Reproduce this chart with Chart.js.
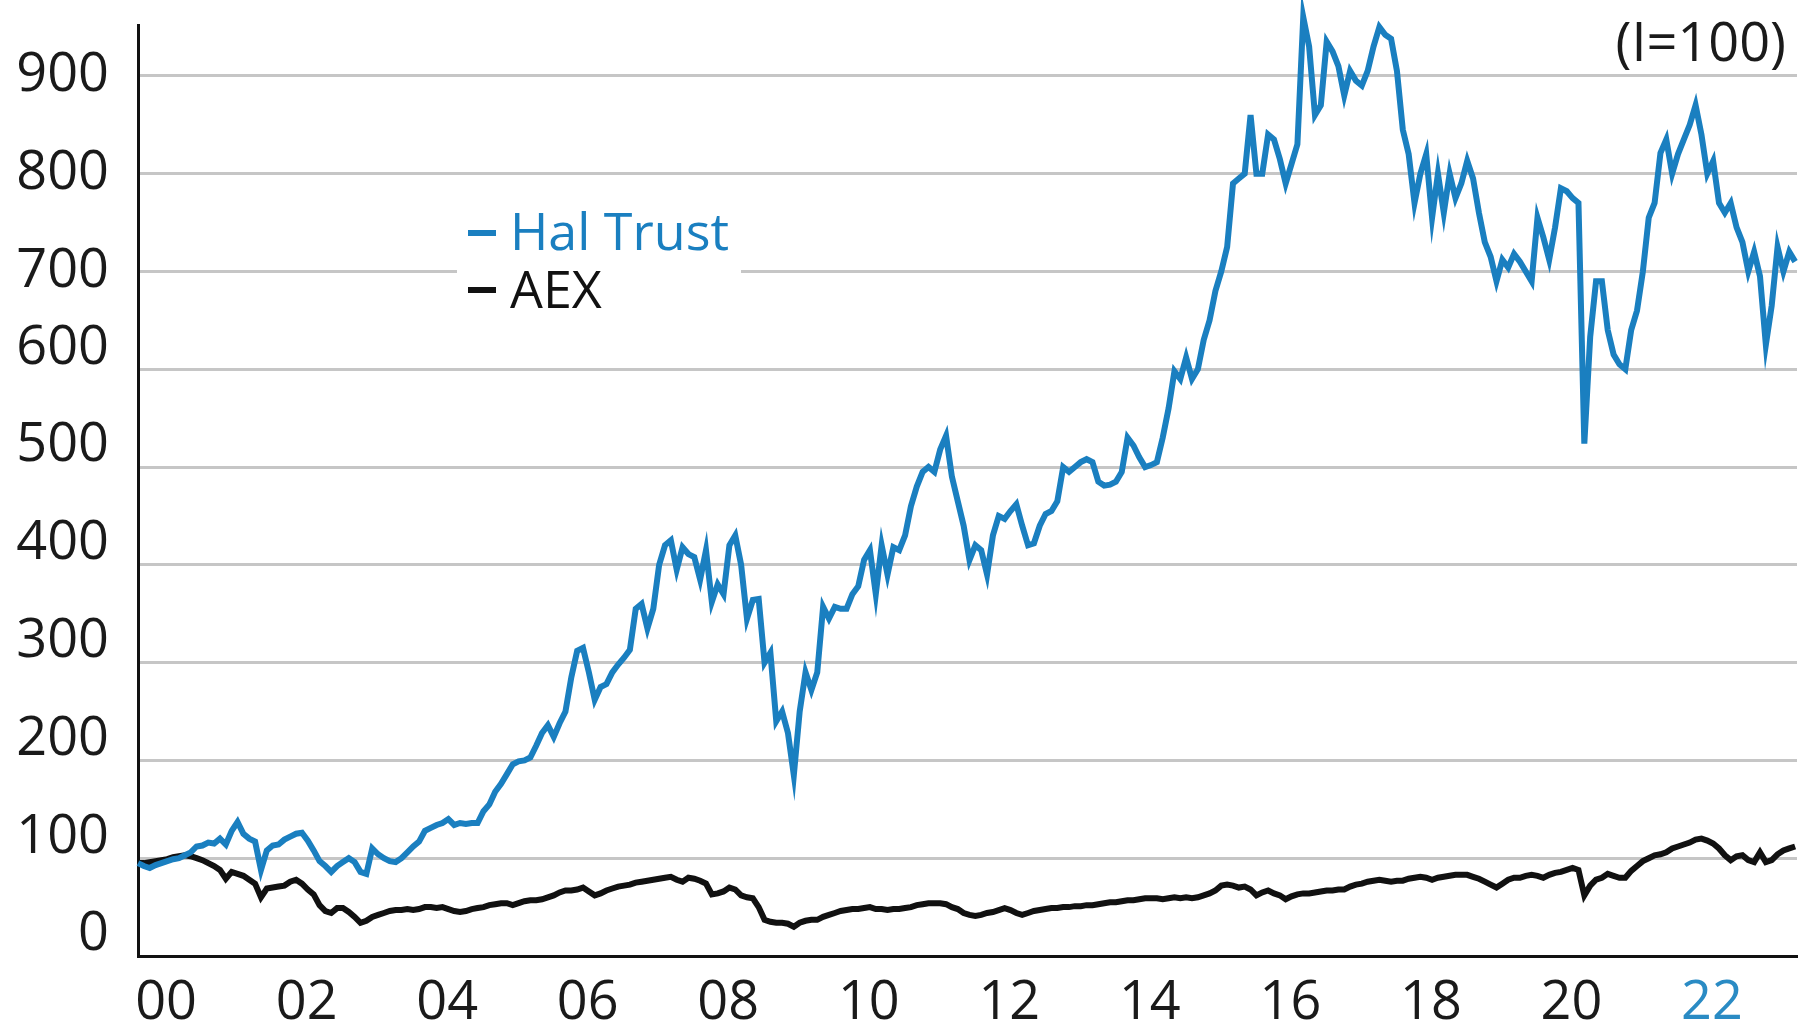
<!DOCTYPE html>
<html lang="nl">
<head>
<meta charset="utf-8">
<title>Hal Trust vs AEX</title>
<script src="https://cdn.jsdelivr.net/npm/chart.js@4.4.0/dist/chart.umd.min.js"></script>
<style>
  html, body { margin: 0; padding: 0; background: #fff; }
  #grafiek { display: block; }
</style>
</head>
<body>
<canvas id="grafiek" width="1800" height="1029"></canvas>
<script>
// ===============================
// DATA (maandstanden, geïndexeerd: begin 2000 = 100)
// ===============================
const startJaar = 2000.1;   // eerste maand op de as
const halTrust = [
  95, 92, 90, 93, 95, 97, 99, 100, 103, 106, 112, 113,
  116, 115, 120, 114, 128, 137, 125, 120, 117, 88, 108, 113,
  114, 119, 122, 125, 126, 118, 108, 97, 92, 86, 92, 96,
  100, 96, 86, 84, 110, 104, 100, 97, 96, 100, 106, 112,
  117, 128, 131, 134, 136, 140, 134, 136, 135, 136, 136, 148,
  155, 168, 176, 186, 196, 199, 200, 203, 215, 228, 236, 224,
  238, 250, 285, 312, 315, 290, 262, 275, 278, 290, 298, 305,
  313, 355, 360, 335, 355, 400, 420, 425, 395, 418, 411, 408,
  385, 415, 362, 380, 370, 420, 430, 400, 345, 364, 365, 300,
  310, 240, 250, 228, 185, 250, 290, 272, 290, 357, 345, 357,
  355, 355, 370, 378, 405, 415, 370, 420, 390, 418, 415, 430,
  460, 480, 495, 500, 495, 518, 532, 490, 465, 440, 405, 420,
  415, 390, 430, 450, 447, 455, 462, 440, 420, 422, 440, 452,
  455, 465, 500, 495, 500, 505, 508, 505, 485, 481, 482, 485,
  495, 530, 522, 510, 500, 502, 505, 530, 560, 598, 590, 612,
  590, 600, 630, 650, 680, 700, 725, 790, 795, 800, 860, 800,
  800, 840, 835, 815, 790, 810, 830, 960, 930, 860, 870, 935,
  925, 910, 880, 905, 895, 890, 905, 930, 950, 942, 938, 905,
  845, 820, 770, 800, 820, 755, 800, 760, 800, 775, 790, 813,
  795, 760, 730, 715, 690, 712, 704, 718, 710, 700, 690, 755,
  735, 712, 745, 785, 782, 775, 770, 524, 633, 690, 690, 640,
  615, 605, 600, 640, 660, 700, 755, 770, 821, 835, 800, 820,
  835, 850, 870, 840, 800, 813, 770, 760, 770, 745, 730, 700,
  720, 695, 625, 665, 725, 700, 720, 710
];
const aex = [
  95, 95, 96, 97, 98, 99, 101, 102, 103, 102, 100, 98,
  95, 92, 88, 79, 86, 84, 82, 78, 74, 60, 69, 70,
  71, 72, 76, 78, 74, 68, 63, 52, 46, 44, 49, 49,
  45, 40, 34, 36, 40, 42, 44, 46, 47, 47, 48, 47,
  48, 50, 50, 49, 50, 48, 46, 45, 46, 48, 49, 50,
  52, 53, 54, 54, 52, 54, 56, 57, 57, 58, 60, 62,
  65, 67, 67, 68, 70, 66, 62, 64, 67, 69, 71, 72,
  73, 75, 76, 77, 78, 79, 80, 81, 78, 76, 80, 79,
  77, 74, 63, 64, 66, 70, 68, 62, 60, 59, 50, 37,
  35, 34, 34, 33, 30, 34, 36, 37, 37, 40, 42, 44,
  46, 47, 48, 48, 49, 50, 48, 48, 47, 48, 48, 49,
  50, 52, 53, 54, 54, 54, 53, 50, 48, 44, 42, 41,
  42, 44, 45, 47, 49, 47, 44, 42, 44, 46, 47, 48,
  49, 49, 50, 50, 51, 51, 52, 52, 53, 54, 55, 55,
  56, 57, 57, 58, 59, 59, 59, 58, 59, 60, 59, 60,
  59, 60, 62, 64, 67, 72, 73, 72, 70, 71, 68, 62,
  65, 67, 64, 62, 58, 61, 63, 64, 64, 65, 66, 67,
  67, 68, 68, 71, 73, 74, 76, 77, 78, 77, 76, 77,
  77, 79, 80, 81, 80, 78, 80, 81, 82, 83, 83, 83,
  81, 79, 76, 73, 70, 74, 78, 80, 80, 82, 83, 82,
  80, 83, 85, 86, 88, 90, 88, 62, 72, 78, 80, 84,
  82, 80, 80, 87, 92, 97, 100, 103, 104, 106, 110, 112,
  114, 116, 119, 120, 118, 115, 110, 103, 98, 102, 103, 98,
  96, 106, 96, 98, 104, 108, 110, 112
];
const tickJaren = [2000, 2002, 2004, 2006, 2008, 2010, 2012, 2014, 2016, 2018, 2020, 2022];
const tickLabels = ['00', '02', '04', '06', '08', '10', '12', '14', '16', '18', '20', '22'];
const yTicks = [0, 100, 200, 300, 400, 500, 600, 700, 800, 900];

// ===============================
// KLEUREN / LETTERS
// ===============================
const blauw = '#1a7fc0';
const zwart = '#111111';
const letter = '"Open Sans", "DejaVu Sans", sans-serif';

const naarPunten = reeks => reeks.map((v, i) => ({ x: startJaar + i / 12, y: v }));

// legenda en "(I=100)" zelf tekenen
const extraTekst = {
  id: 'extraTekst',
  beforeDatasetsDraw(chart) {
    const { ctx } = chart;
    ctx.save();
    ctx.fillStyle = '#ffffff';
    ctx.fillRect(457, 190, 284, 128);

    ctx.font = `52px ${letter}`;
    ctx.textBaseline = 'alphabetic';
    ctx.textAlign = 'left';
    const regels = [{ y: 250, streep: 233 }, { y: 308, streep: 290 }];
    chart.data.datasets.forEach((ds, i) => {
      const r = regels[i];
      ctx.fillStyle = ds.borderColor;
      ctx.fillRect(468, r.streep - 3, 28, 6);
      ctx.fillText(ds.label, 510, r.y);
    });

    ctx.font = `54px ${letter}`;
    ctx.textAlign = 'right';
    ctx.fillStyle = '#1a1a1a';
    ctx.fillText('(I=100)', 1786, 61);
    ctx.restore();
  }
};

new Chart(document.getElementById('grafiek'), {
  type: 'line',
  data: {
    datasets: [
      {
        label: 'Hal Trust',
        data: naarPunten(halTrust),
        borderColor: blauw,
        borderWidth: 6,
        pointRadius: 0,
        tension: 0,
        clip: false
      },
      {
        label: 'AEX',
        data: naarPunten(aex),
        borderColor: zwart,
        borderWidth: 6,
        pointRadius: 0,
        tension: 0
      }
    ]
  },
  options: {
    responsive: false,
    animation: false,
    layout: { padding: { top: 25, right: 3, left: 0, bottom: 0 } },
    plugins: {
      legend: { display: false },
      tooltip: { enabled: false }
    },
    scales: {
      x: {
        type: 'linear',
        min: startJaar,
        max: 2023.71,
        afterFit: s => { s.height = 73; s.paddingLeft = 0; s.paddingRight = 0; },
        afterBuildTicks: s => { s.ticks = tickJaren.map(j => ({ value: j + 0.5 })); },
        grid: { display: false },
        border: { display: true, color: zwart, width: 3 },
        ticks: {
          autoSkip: false,
          maxRotation: 0,
          padding: 7,
          font: { family: letter, size: 54 },
          color: ctx => (ctx.index === tickLabels.length - 1 ? '#2a8bc4' : '#1a1a1a'),
          callback: (v, i) => tickLabels[i]
        }
      },
      y: {
        min: 0,
        max: 952,
        // vaste breedte, en geen extra ruimte boven/onder voor de labels
        afterFit: s => { s.width = 138; s.paddingTop = 0; s.paddingBottom = 0; },
        afterBuildTicks: s => { s.ticks = yTicks.map(v => ({ value: v })); },
        grid: { color: '#c6c6c6', lineWidth: 3, drawTicks: false },
        border: { display: true, color: zwart, width: 3 },
        ticks: {
          padding: 29,
          font: { family: letter, size: 54, lineHeight: 0.78 },
          color: '#1a1a1a',
          // in het origineel staan de labels vanaf 600 iets boven hun lijn
          callback: v => (v <= 600 ? [String(v), ''] : String(v))
        }
      }
    }
  },
  plugins: [extraTekst]
});
</script>
</body>
</html>
